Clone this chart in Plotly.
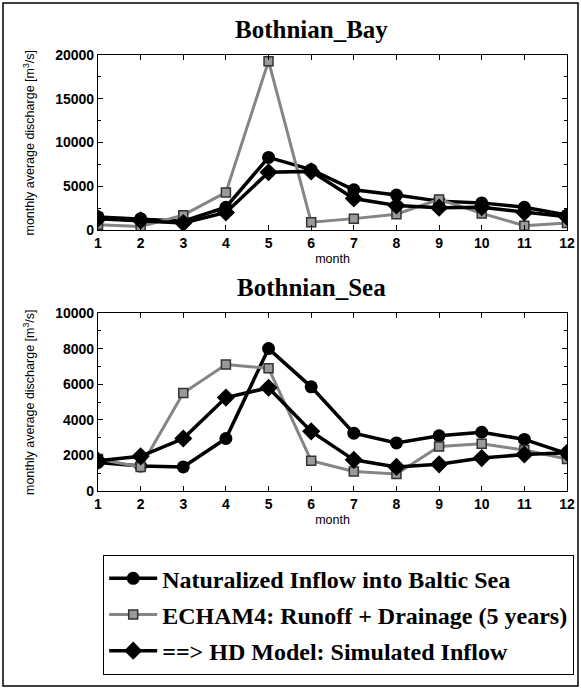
import plotly.graph_objects as go
from plotly.subplots import make_subplots

months = list(range(1, 13))

# Bothnian Bay
bay_naturalized = [1500, 1300, 1000, 2600, 8300, 6900, 4600, 4000, 3300, 3100, 2600, 1700]
bay_echam = [600, 400, 1700, 4300, 19300, 900, 1300, 1800, 3500, 1900, 500, 800]
bay_hd = [1300, 1100, 800, 2000, 6600, 6700, 3600, 2800, 2550, 2600, 2000, 1500]

# Bothnian Sea
sea_naturalized = [1600, 1400, 1350, 2950, 8000, 5850, 3250, 2700, 3100, 3300, 2900, 2100]
sea_echam = [1800, 1350, 5500, 7100, 6900, 1700, 1100, 950, 2500, 2650, 2300, 1800]
sea_hd = [1700, 1950, 2950, 5250, 5800, 3350, 1750, 1350, 1500, 1850, 2050, 2150]

names = ["Naturalized Inflow into Baltic Sea",
         "ECHAM4: Runoff + Drainage (5 years)",
         "==> HD Model: Simulated Inflow"]
panel_titles = ["Bothnian_Bay", "Bothnian_Sea"]
ytitle = "monthly average discharge [m<sup>3</sup>/s]"

fig = make_subplots(rows=2, cols=1)

L, R, T, B = 98, 14, 55, 199
W, H = 581, 690
plot_w = W - L - R
plot_h = H - T - B
top_bottom = 1 - 175 / plot_h
bot_top = 1 - (313 - T) / plot_h


def px_x(p):
    return (p - L) / plot_w


def px_y(p):
    return (H - B - p) / plot_h


styles = [
    dict(line=dict(color="black", width=3.5),
         marker=dict(symbol="circle", size=13, color="black")),
    dict(line=dict(color="#858585", width=3),
         marker=dict(symbol="square", size=9, color="#9a9a9a",
                     line=dict(color="#333333", width=1.5))),
    dict(line=dict(color="black", width=3.5),
         marker=dict(symbol="diamond", size=14, color="black")),
]

for row, series in [(1, [bay_naturalized, bay_echam, bay_hd]),
                    (2, [sea_naturalized, sea_echam, sea_hd])]:
    for i, (nm, ys) in enumerate(zip(names, series)):
        fig.add_trace(go.Scatter(x=months, y=ys, mode="lines+markers", name=nm,
                                 legendgroup=f"g{i}", showlegend=(row == 1),
                                 **styles[i]), row=row, col=1)

axis_font = dict(family="Liberation Sans, Arial", size=14, color="black", weight="bold")
title_font = dict(family="Liberation Sans, Arial", size=12.5, color="black")
serif_bold = dict(family="Liberation Serif, Times New Roman", color="black", weight="bold")

for row, rng, dt, minor in [(1, [0, 20000], 5000, 2500), (2, [0, 10000], 2000, 1000)]:
    fig.update_xaxes(range=[1, 12], tickmode="array", tickvals=months,
                     ticks="inside", ticklen=5, tickcolor="black", mirror="ticks",
                     showline=True, linecolor="black", linewidth=1.2,
                     showgrid=False, zeroline=False, tickfont=axis_font,
                     automargin=False,
                     title=dict(text="month", font=title_font, standoff=4),
                     row=row, col=1)
    fig.update_yaxes(range=rng, dtick=dt, tick0=0, tickformat="d",
                     ticks="inside", ticklen=5, tickcolor="black", mirror="ticks",
                     minor=dict(dtick=minor, ticks="inside", ticklen=3, tickcolor="black"),
                     showline=True, linecolor="black", linewidth=1.2,
                     showgrid=False, zeroline=False, tickfont=axis_font,
                     automargin=False,
                     row=row, col=1)

annotations = []
for title, ty, (d0, d1) in [(panel_titles[0], 30, (top_bottom, 1)),
                            (panel_titles[1], 287, (0, bot_top))]:
    annotations.append(dict(text=title, x=px_x(311), y=px_y(ty), xref="paper", yref="paper",
                            xanchor="center", yanchor="middle", showarrow=False,
                            font=dict(size=25, **serif_bold)))
    annotations.append(dict(text=ytitle, x=px_x(29), y=(d0 + d1) / 2, xref="paper", yref="paper",
                            xanchor="center", yanchor="middle", textangle=-90, showarrow=False,
                            font=title_font))

fig.update_layout(
    yaxis=dict(domain=[top_bottom, 1]),
    yaxis2=dict(domain=[0, bot_top]),
    width=W, height=H,
    margin=dict(l=L, r=R, t=T, b=B, autoexpand=False),
    paper_bgcolor="white", plot_bgcolor="white",
    legend=dict(x=px_x(103), y=px_y(555), xanchor="left", yanchor="top",
                bordercolor="black", borderwidth=1.2, bgcolor="white",
                font=dict(size=24, **serif_bold),
                tracegroupgap=2, itemwidth=48, traceorder="grouped"),
    annotations=annotations,
    shapes=[
        dict(type="rect", xref="paper", yref="paper",
             x0=px_x(3), x1=px_x(578), y0=px_y(686), y1=px_y(3),
             line=dict(color="black", width=1.5), layer="below"),
    ],
)

fig.write_html("out.html", config={"displayModeBar": False},
               post_script="document.body.style.margin='0';document.body.style.overflow='hidden';")
